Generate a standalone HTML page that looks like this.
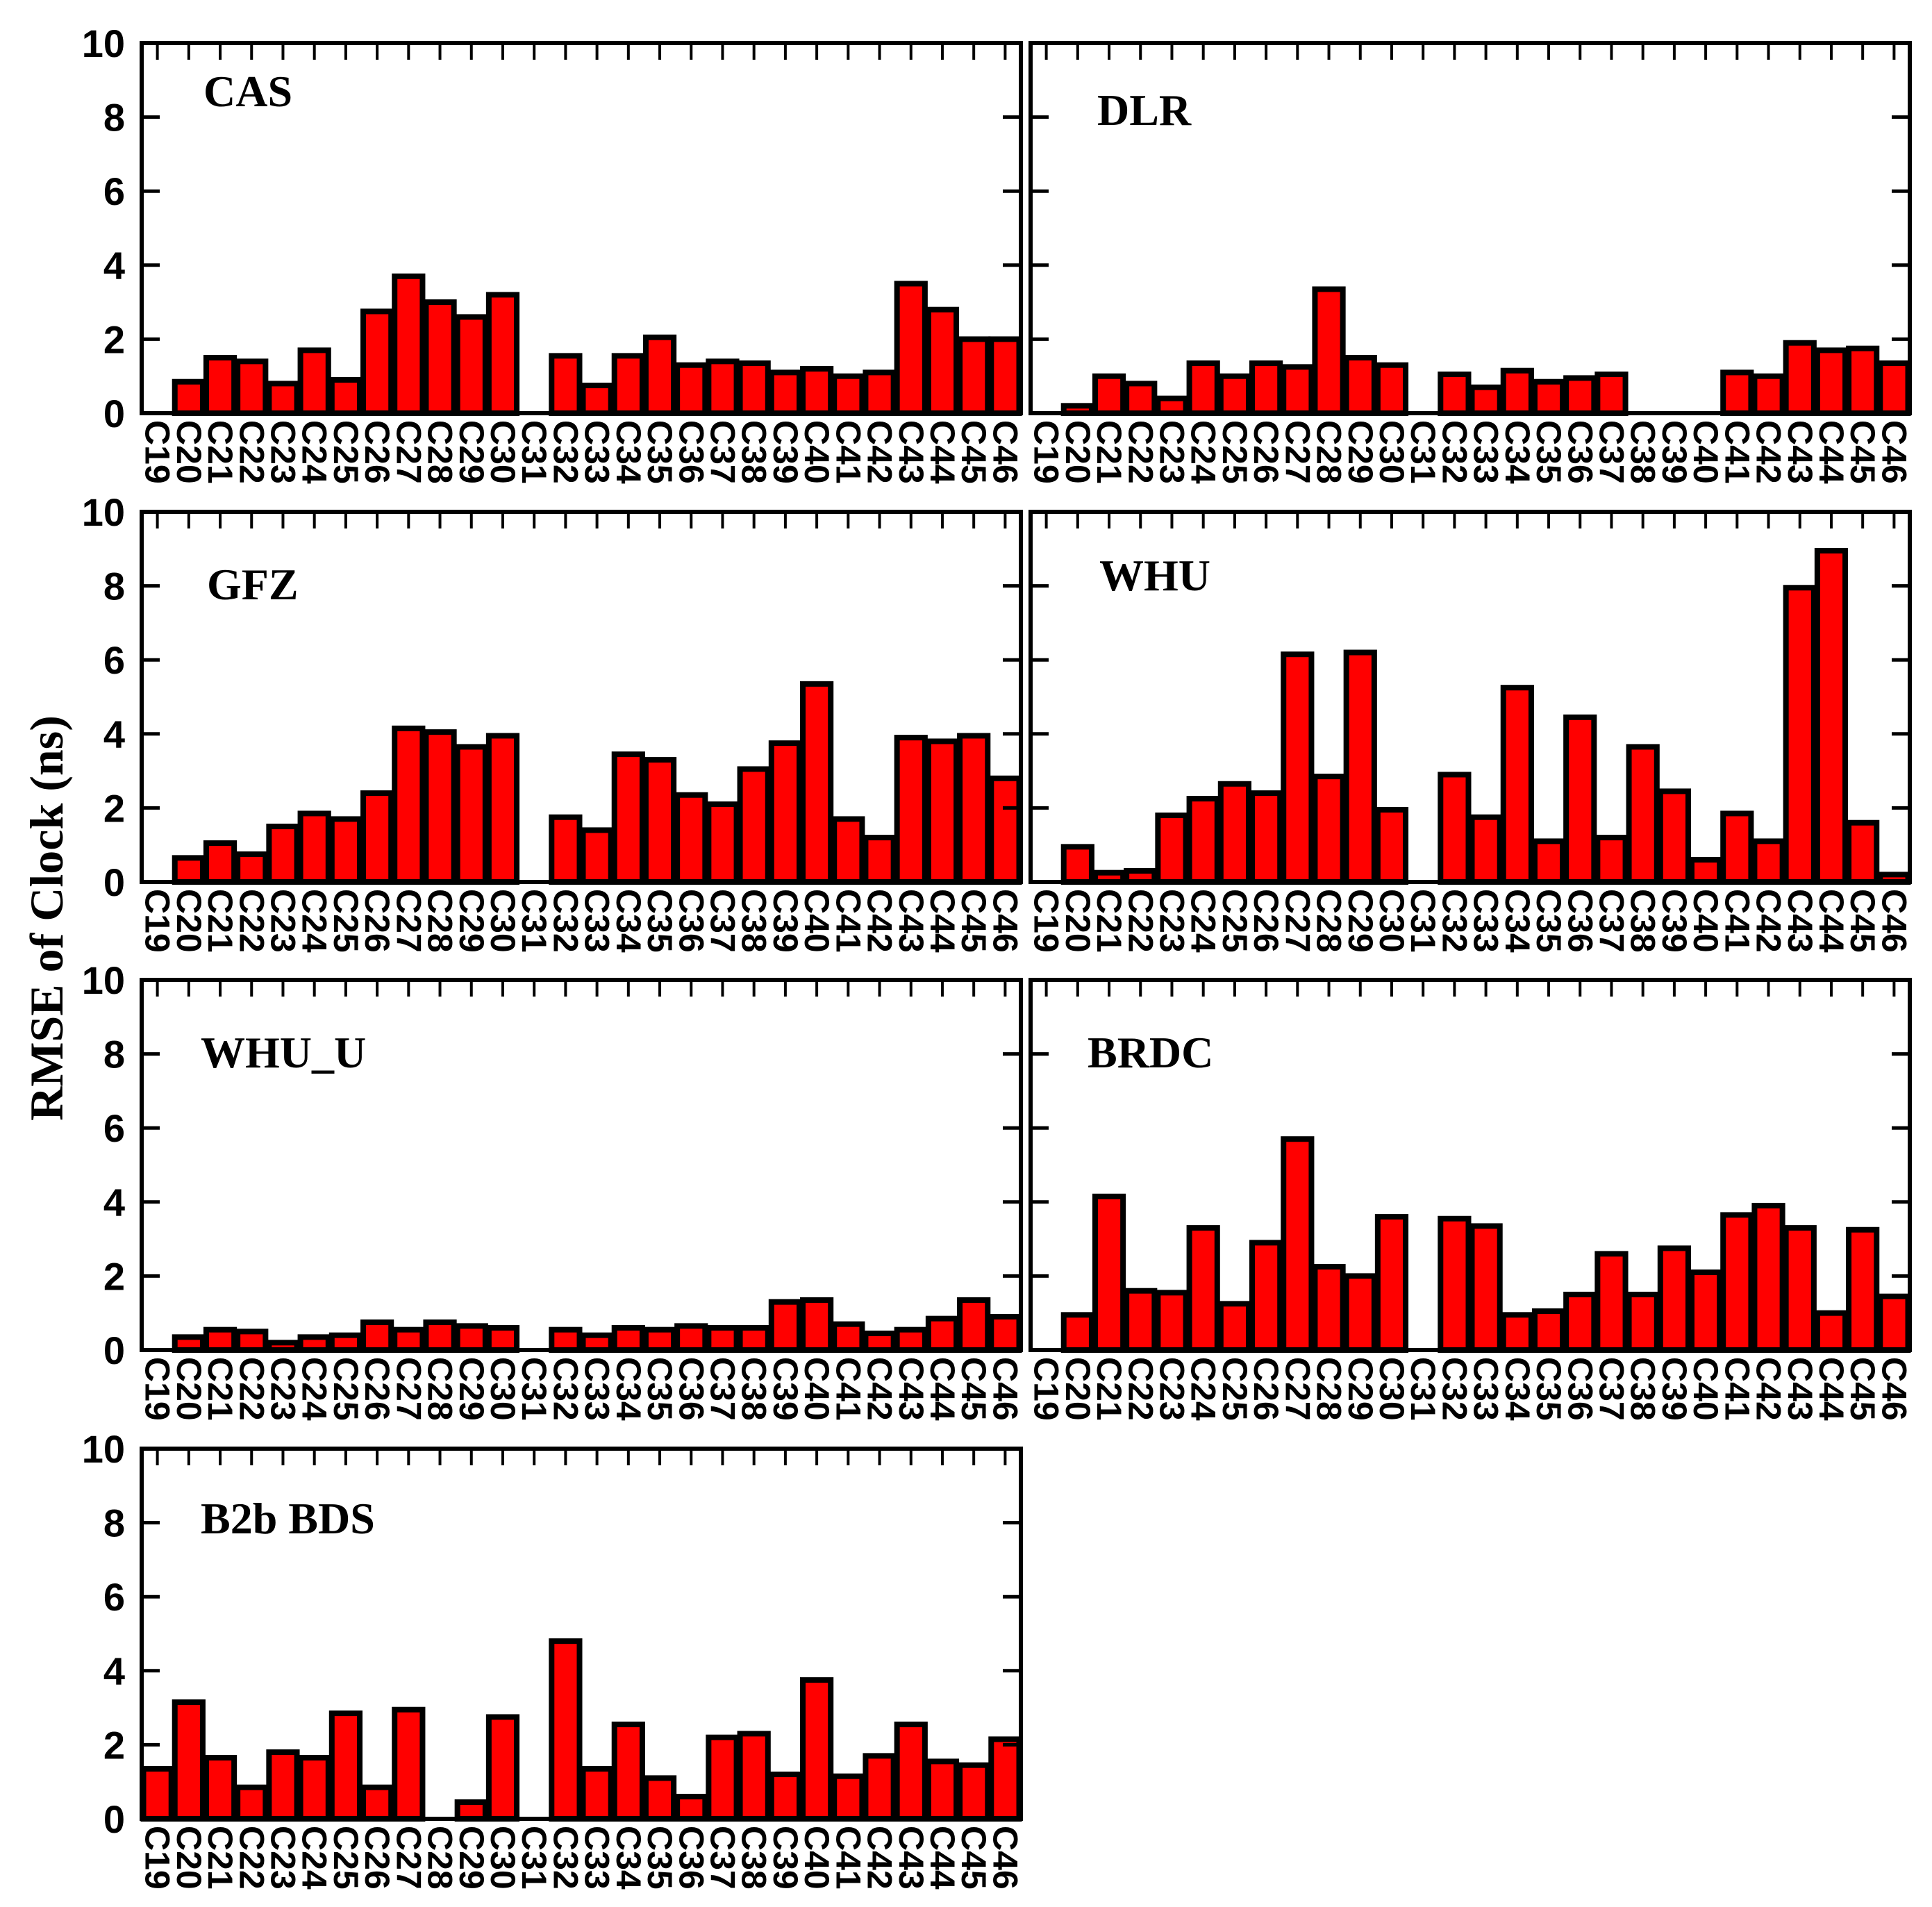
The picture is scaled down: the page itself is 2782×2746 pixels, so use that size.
<!DOCTYPE html>
<html><head><meta charset="utf-8"><style>
html,body{margin:0;padding:0;background:#fff;}
svg{display:block;}
.yl{font-family:"Liberation Sans",sans-serif;font-weight:bold;font-size:56px;}
.xl{font-family:"Liberation Sans",sans-serif;font-weight:bold;font-size:50px;}
.tt{font-family:"Liberation Serif",serif;font-weight:bold;font-size:64px;}
</style></head><body>
<svg id="chart" width="2782" height="2746" viewBox="0 0 2782 2746" xmlns="http://www.w3.org/2000/svg">
<text class="tt" x="0" y="0" text-anchor="middle" transform="translate(90,1322) rotate(-90)" style="font-size:68px">RMSE of Clock (ns)</text>
</svg>
<script>
const categories = ["C19","C20","C21","C22","C23","C24","C25","C26","C27","C28","C29","C30","C31","C32","C33","C34","C35","C36","C37","C38","C39","C40","C41","C42","C43","C44","C45","C46"];
const yTicks = [0,2,4,6,8,10];
const panelTitles = ["CAS","DLR","GFZ","WHU","WHU_U","BRDC","B2b BDS"];
const casValues  = [0,0.85,1.5,1.4,0.8,1.7,0.9,2.75,3.7,3.0,2.6,3.2,0,1.55,0.75,1.55,2.05,1.3,1.4,1.35,1.1,1.2,1.0,1.1,3.5,2.8,2.0,2.0];
const dlrValues  = [0,0.2,1.0,0.8,0.4,1.35,1.0,1.35,1.25,3.35,1.5,1.3,0,1.05,0.7,1.15,0.85,0.95,1.05,0,0,0,1.1,1.0,1.9,1.7,1.75,1.35];
const gfzValues  = [0,0.65,1.05,0.75,1.5,1.85,1.7,2.4,4.15,4.05,3.65,3.95,0,1.75,1.4,3.45,3.3,2.35,2.1,3.05,3.75,5.35,1.7,1.2,3.9,3.8,3.95,2.8];
const whuValues  = [0,0.95,0.25,0.3,1.8,2.25,2.65,2.4,6.15,2.85,6.2,1.95,0,2.9,1.75,5.25,1.1,4.45,1.2,3.65,2.45,0.6,1.85,1.1,7.95,8.95,1.6,0.2];
const whuuValues = [0,0.35,0.55,0.5,0.2,0.35,0.4,0.75,0.55,0.75,0.65,0.6,0,0.55,0.4,0.6,0.55,0.65,0.6,0.6,1.3,1.35,0.7,0.45,0.55,0.85,1.35,0.9];
const brdcValues = [0,0.95,4.15,1.6,1.55,3.3,1.25,2.9,5.7,2.25,2.0,3.6,0,3.55,3.35,0.95,1.05,1.5,2.6,1.5,2.75,2.1,3.65,3.9,3.3,1.0,3.25,1.45];
const b2bValues  = [1.35,3.15,1.65,0.85,1.8,1.65,2.85,0.85,2.95,0,0.45,2.75,0,4.8,1.35,2.55,1.1,0.6,2.2,2.3,1.2,3.75,1.15,1.7,2.55,1.55,1.45,2.15];
const seriesList = [casValues,dlrValues,gfzValues,whuValues,whuuValues,brdcValues,b2bValues];

const NS="http://www.w3.org/2000/svg";
const svg=document.getElementById('chart');
const colX=[204,1484], panelW=1266, rowY=[62,737,1411,2086], panelH=533;
const titlePos=[[293,153],[1580,180],[298,863],[1583,850],[289,1537],[1566,1537],[289,2208]];
function mk(tag,attrs,parent){const e=document.createElementNS(NS,tag);for(const k in attrs)e.setAttribute(k,attrs[k]);(parent||svg).appendChild(e);return e;}

seriesList.forEach((vals,p)=>{
  const px=colX[p%2], py=rowY[Math.floor(p/2)];
  const g=mk('g',{});
  
  
  const slot=panelW/categories.length;
  const xS=i=>px+i*slot;
  const yS=v=>py+panelH-v/10*panelH;
  vals.forEach((v,i)=>{
    if(v<=0) return;
    const r=mk('rect',{x:xS(i)+2.5,y:yS(v),width:slot-5,height:yS(0)-yS(v),fill:'#ff0000',stroke:'#000','stroke-width':8},g);
    
    
  });
  categories.forEach((c,i)=>{
    const cx=xS(i)+slot/2;
    mk('line',{x1:cx,y1:py,x2:cx,y2:py+24,stroke:'#000','stroke-width':4},g);
    const t=mk('text',{class:'xl',x:0,y:0,'dominant-baseline':'central',transform:`translate(${cx},${py+panelH+10}) rotate(90)`},g);
    t.textContent=c;
    
    
  });
  yTicks.forEach(v=>{
    const y=yS(v);
    if(v>0&&v<10){
      mk('line',{x1:px,y1:y,x2:px+26,y2:y,stroke:'#000','stroke-width':5},g);
      mk('line',{x1:px+panelW,y1:y,x2:px+panelW-26,y2:y,stroke:'#000','stroke-width':5},g);
    }
    if(p%2===0){
      const t=mk('text',{class:'yl',x:px-24,y:y+20,'text-anchor':'end'},g);
      t.textContent=String(v);
      
      
    }
  });
  mk('rect',{x:px,y:py,width:panelW,height:panelH,fill:'none',stroke:'#000','stroke-width':6},g);
  const tt=mk('text',{class:'tt',x:titlePos[p][0],y:titlePos[p][1]},g);
  tt.textContent=panelTitles[p];
  
  
});
</script>
</body></html>
